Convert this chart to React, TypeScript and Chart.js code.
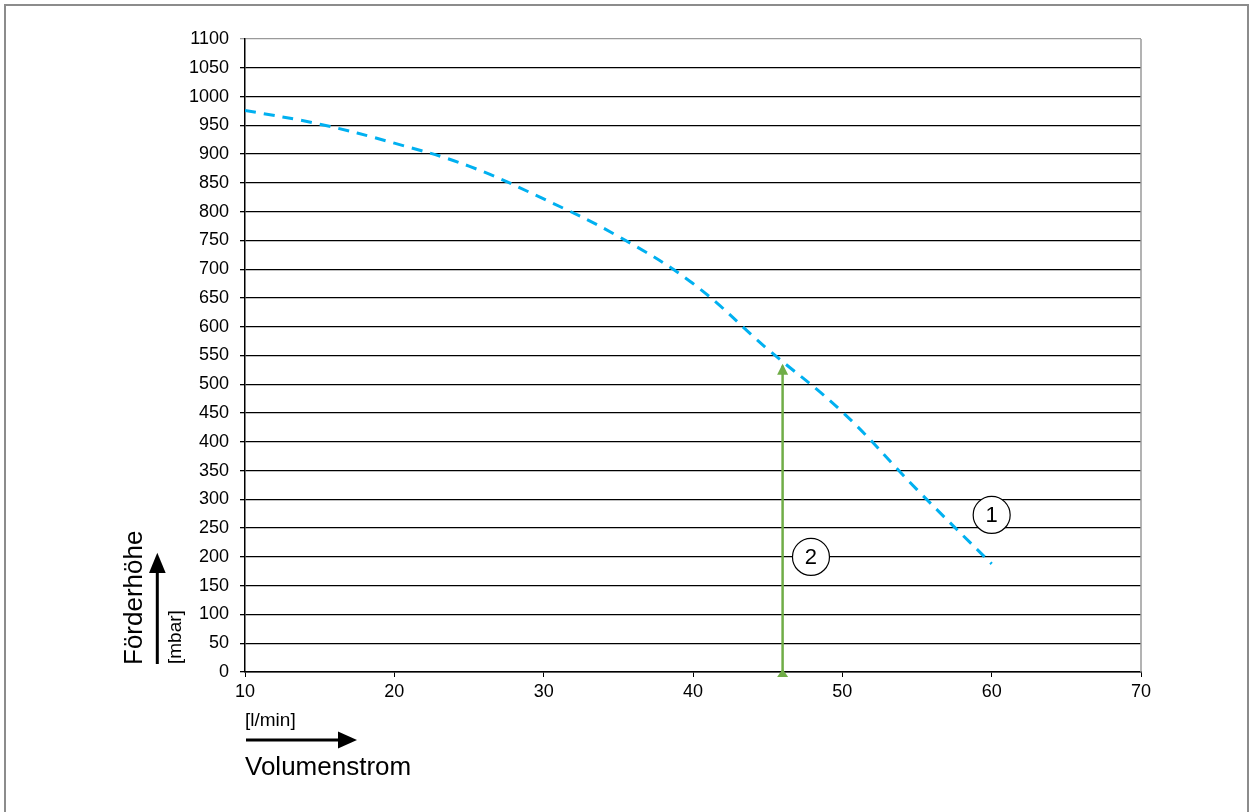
import React, { useEffect, useRef } from "react";
import { Chart, registerables } from "chart.js";

Chart.register(...registerables);

// Pump curve (Volumenstrom l/min -> Förderhöhe mbar)
const flowValues = [10, 15, 20, 25, 30, 35, 40, 45, 50, 55, 60];
const headValues = [976, 952, 919, 879, 822, 757, 675, 561, 452, 317, 188];

// Operating point marker (2)
const operatingFlow = [46, 46];
const operatingHead = [0, 532];

// Circled labels
const labelTexts = ["1", "2"];
const labelFlow = [60, 47.9];
const labelHead = [273, 200];

// Axis ranges
const xMin = 10;
const xMax = 70;
const xStep = 10;
const yMin = 0;
const yMax = 1100;
const yStep = 50;

const FONT = "'Liberation Sans', Arial, sans-serif";

export default function App() {
  const ref = useRef<HTMLCanvasElement | null>(null);

  useEffect(() => {
    const canvas = ref.current;
    if (!canvas) return;

    const decorPlugin = {
      id: "decor",
      beforeDraw(chart: any) {
        const ctx = chart.ctx;
        ctx.save();
        ctx.fillStyle = "#ffffff";
        ctx.fillRect(0, 0, chart.width, chart.height);
        ctx.strokeStyle = "#8c8c8c";
        ctx.lineWidth = 2;
        ctx.strokeRect(5, 5, 1243, 820);
        ctx.restore();
      },
      afterDatasetsDraw(chart: any) {
        const ctx = chart.ctx;
        const xs = chart.scales.x;
        const ys = chart.scales.y;
        const ca = chart.chartArea;
        ctx.save();
        // right border of plot area
        ctx.strokeStyle = "#9a9a9a";
        ctx.lineWidth = 1.5;
        ctx.beginPath();
        ctx.moveTo(ca.right, ca.top);
        ctx.lineTo(ca.right, ca.bottom);
        ctx.stroke();

        // green arrowheads
        const gx = xs.getPixelForValue(operatingFlow[1]);
        const gTop = ys.getPixelForValue(operatingHead[1]);
        const gBot = ys.getPixelForValue(operatingHead[0]);
        ctx.fillStyle = "#70AD47";
        ctx.beginPath();
        ctx.moveTo(gx, gTop - 2);
        ctx.lineTo(gx - 5.5, gTop + 9);
        ctx.lineTo(gx + 5.5, gTop + 9);
        ctx.closePath();
        ctx.fill();
        ctx.beginPath();
        ctx.moveTo(gx, gBot - 3);
        ctx.lineTo(gx - 5.5, gBot + 5);
        ctx.lineTo(gx + 5.5, gBot + 5);
        ctx.closePath();
        ctx.fill();

        // circled labels
        for (let i = 0; i < labelTexts.length; i++) {
          const cx = xs.getPixelForValue(labelFlow[i]);
          const cy = ys.getPixelForValue(labelHead[i]);
          ctx.beginPath();
          ctx.arc(cx, cy, 18.5, 0, Math.PI * 2);
          ctx.fillStyle = "#ffffff";
          ctx.fill();
          ctx.strokeStyle = "#000000";
          ctx.lineWidth = 1.2;
          ctx.stroke();
          ctx.fillStyle = "#000000";
          ctx.font = `22px ${FONT}`;
          ctx.textAlign = "center";
          ctx.textBaseline = "middle";
          ctx.fillText(labelTexts[i], cx, cy + 1);
        }
        ctx.restore();
      },
      afterDraw(chart: any) {
        const ctx = chart.ctx;
        ctx.save();
        ctx.fillStyle = "#000000";
        ctx.strokeStyle = "#000000";

        // Y title: Förderhöhe (rotated)
        ctx.save();
        ctx.translate(142, 665);
        ctx.rotate(-Math.PI / 2);
        ctx.font = `26px ${FONT}`;
        ctx.textAlign = "left";
        ctx.textBaseline = "alphabetic";
        ctx.fillText("Förderhöhe", 0, 0);
        ctx.restore();

        // Y unit
        ctx.save();
        ctx.translate(181, 664);
        ctx.rotate(-Math.PI / 2);
        ctx.font = `19px ${FONT}`;
        ctx.textAlign = "left";
        ctx.textBaseline = "alphabetic";
        ctx.fillText("[mbar]", 0, 0);
        ctx.restore();

        // vertical arrow
        ctx.lineWidth = 3;
        ctx.beginPath();
        ctx.moveTo(157.3, 664);
        ctx.lineTo(157.3, 570);
        ctx.stroke();
        ctx.beginPath();
        ctx.moveTo(157.3, 552.7);
        ctx.lineTo(149, 573);
        ctx.lineTo(165.7, 573);
        ctx.closePath();
        ctx.fill();

        // X unit
        ctx.font = `19px ${FONT}`;
        ctx.textAlign = "left";
        ctx.textBaseline = "alphabetic";
        ctx.fillText("[l/min]", 245, 726);

        // horizontal arrow
        ctx.beginPath();
        ctx.moveTo(246, 740);
        ctx.lineTo(340, 740);
        ctx.stroke();
        ctx.beginPath();
        ctx.moveTo(357, 740);
        ctx.lineTo(338, 731.5);
        ctx.lineTo(338, 748.5);
        ctx.closePath();
        ctx.fill();

        // X title
        ctx.font = `26px ${FONT}`;
        ctx.fillText("Volumenstrom", 245, 775);
        ctx.restore();
      },
    };

    const chart = new Chart(canvas, {
      type: "line",
      data: {
        datasets: [
          {
            label: "Förderhöhe",
            data: flowValues.map((x, i) => ({ x, y: headValues[i] })),
            borderColor: "#00B0F0",
            borderWidth: 3,
            borderDash: [11, 8],
            pointRadius: 0,
            fill: false,
            tension: 0.4,
          },
          {
            label: "Betriebspunkt",
            data: operatingFlow.map((x, i) => ({ x, y: operatingHead[i] })),
            borderColor: "#70AD47",
            borderWidth: 2.5,
            pointRadius: 0,
            fill: false,
          },
        ],
      },
      options: {
        responsive: false,
        animation: false,
        devicePixelRatio: 1,
        layout: { padding: { left: 0, top: 39, right: 112, bottom: 0 } },
        plugins: {
          legend: { display: false },
          tooltip: { enabled: false },
          title: { display: false },
        },
        scales: {
          x: {
            type: "linear",
            min: xMin,
            max: xMax,
            ticks: {
              stepSize: xStep,
              color: "#000000",
              font: { family: FONT, size: 18 },
              padding: 4,
              maxRotation: 0,
              callback: (v: any) => String(v),
            },
            grid: {
              drawOnChartArea: false,
              drawTicks: true,
              tickLength: 5,
              color: "#000000",
            },
            border: { display: true, color: "#000000", width: 1.5 },
            afterFit: (s: any) => {
              s.height = 140;
            },
          },
          y: {
            type: "linear",
            min: yMin,
            max: yMax,
            ticks: {
              stepSize: yStep,
              color: "#000000",
              font: { family: FONT, size: 18 },
              padding: 11,
              callback: (v: any) => String(v),
            },
            grid: {
              drawTicks: true,
              tickLength: 5,
              lineWidth: 1.3,
              color: (c: any) => (c.tick && c.tick.value === yMax ? "#9a9a9a" : "#000000"),
            },
            border: { display: true, color: "#000000", width: 1.5 },
            afterFit: (s: any) => {
              s.width = 245;
            },
          },
        },
      },
      plugins: [decorPlugin],
    } as any);

    return () => chart.destroy();
  }, []);

  return (
    <div style={{ position: "absolute", left: 0, top: 0, width: 1253, height: 812, background: "#fff" }}>
      <canvas ref={ref} width={1253} height={812} style={{ display: "block" }} />
    </div>
  );
}
